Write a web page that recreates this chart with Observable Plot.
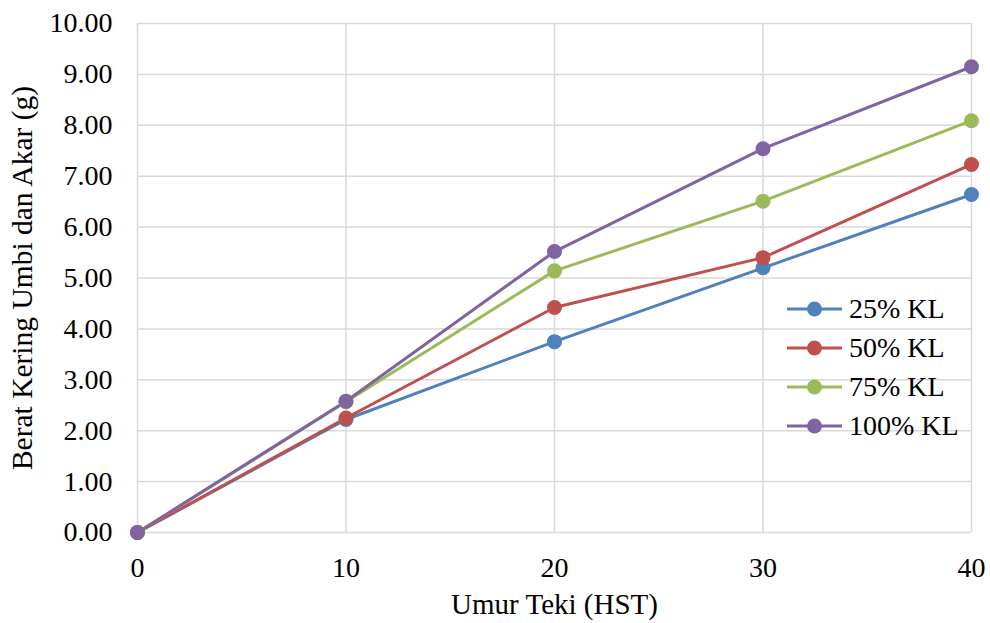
<!DOCTYPE html>
<html>
<head>
<meta charset="utf-8">
<script src="https://cdn.jsdelivr.net/npm/d3@7"></script>
<script src="https://cdn.jsdelivr.net/npm/@observablehq/plot@0.6"></script>
<style>
  html, body { margin: 0; padding: 0; background: #fff; }
  #wrap { position: relative; width: 990px; height: 623px; font-family: "Liberation Serif", "Times New Roman", serif; }
  #legend { position: absolute; left: 785px; top: 289px; }
  .row { display: flex; align-items: center; height: 39px; font-size: 28px; color: #000; }
  .row svg { margin-right: 4px; }
</style>
</head>
<body>
<div id="wrap"></div>
<script>
const days = [0, 10, 20, 30, 40];
const seriesNames = ["25% KL", "50% KL", "75% KL", "100% KL"];
const seriesColors = ["#4F81BD", "#C0504D", "#9BBB59", "#8064A2"];
const kl25 = [0, 2.22, 3.75, 5.20, 6.64];
const kl50 = [0, 2.25, 4.42, 5.40, 7.23];
const kl75 = [0, 2.57, 5.14, 6.51, 8.09];
const kl100 = [0, 2.58, 5.52, 7.54, 9.15];
const yTicks = [0, 1, 2, 3, 4, 5, 6, 7, 8, 9, 10];
const xTitle = "Umur Teki (HST)";
const yTitle = "Berat Kering Umbi dan Akar (g)";

const allValues = [kl25, kl50, kl75, kl100];
const data = seriesNames.flatMap((s, i) =>
  days.map((d, j) => ({ series: s, day: d, value: allValues[i][j] }))
);

const chart = Plot.plot({
  width: 990,
  height: 623,
  marginLeft: 137,
  marginRight: 19,
  marginTop: 23,
  marginBottom: 91,
  style: { fontFamily: "'Liberation Serif', 'Times New Roman', serif", fontSize: "28px", color: "#000", background: "#fff" },
  x: { domain: [0, 40] },
  y: { domain: [0, 10] },
  color: { domain: seriesNames, range: seriesColors },
  marks: [
    Plot.gridX(days, { stroke: "#d9d9d9", strokeOpacity: 1, strokeWidth: 1.5 }),
    Plot.gridY(yTicks, { stroke: "#d9d9d9", strokeOpacity: 1, strokeWidth: 1.5 }),
    Plot.axisX({ ticks: days, tickSize: 0, tickPadding: 25, label: null }),
    Plot.axisY({ ticks: yTicks, tickFormat: d3.format(".2f"), tickSize: 0, tickPadding: 25, label: null }),
    Plot.text([xTitle], { frameAnchor: "bottom", dy: 72, textAnchor: "middle", lineAnchor: "middle", fontSize: 29, fill: "#000" }),
    Plot.text([yTitle], { frameAnchor: "left", dx: -115, rotate: -90, textAnchor: "middle", lineAnchor: "middle", fontSize: 29.5, fill: "#000" }),
    Plot.line(data, { x: "day", y: "value", stroke: "series", z: "series", strokeWidth: 3 }),
    Plot.dot(data, { x: "day", y: "value", fill: "series", r: 7.5 })
  ]
});

const wrap = document.getElementById("wrap");
wrap.appendChild(chart);

const legend = document.createElement("div");
legend.id = "legend";
seriesNames.forEach((name, i) => {
  const row = document.createElement("div");
  row.className = "row";
  row.innerHTML = `<svg width="60" height="18"><line x1="2" y1="9" x2="57" y2="9" stroke="${seriesColors[i]}" stroke-width="3"/><circle cx="29.5" cy="9" r="7.5" fill="${seriesColors[i]}"/></svg><span>${name}</span>`;
  legend.appendChild(row);
});
wrap.appendChild(legend);
</script>
</body>
</html>
